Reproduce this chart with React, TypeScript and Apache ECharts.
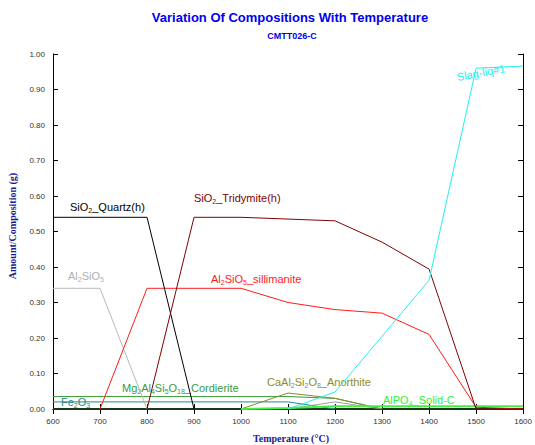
import React, { useEffect, useRef } from "react";
import * as echarts from "echarts";

const temps = [600, 700, 800, 900, 1000, 1100, 1200, 1300, 1400, 1500, 1600];
const quartz = [0.54, 0.54, 0.54, 0, null, null, null, null, null, null, null];
const tridymite = [null, null, 0, 0.54, 0.54, 0.535, 0.53, 0.47, 0.394, 0, 0];
const sillimanite = [null, 0, 0.34, 0.34, 0.34, 0.3, 0.28, 0.27, 0.21, 0.005, 0];
const al2sio5 = [0.34, 0.34, 0, null, null, null, null, null, null, null, null];
const slag = [null, null, null, null, null, 0, 0.048, 0.205, 0.363, 0.96, 0.966];
const cordierite = [0.035, 0.035, 0.035, 0.035, 0.035, 0.035, 0.03, 0, null, null, null];
const fe2o3 = [0.02, 0.02, 0.02, 0.02, 0.02, 0.02, 0, null, null, null, null];
const anorthite = [null, null, null, null, 0, 0.045, 0.03, 0, null, null, null];
const otherPhase = [null, null, null, null, null, 0, 0.02, 0, null, null, null];
const alpo4 = [null, null, null, null, 0, 0.003, 0.008, 0.008, 0.008, 0.008, 0.008];
const baseline = [0, 0, 0, 0, 0, 0, 0, 0, 0, 0, 0];

const toPairs = (vals: (number | null)[]) =>
  temps.map((t, i) => [t, vals[i]]).filter((p) => p[1] !== null);

const SANS = "'Liberation Sans', Arial, sans-serif";
const SERIF = "'Liberation Serif', 'Times New Roman', serif";

function label(
  x: number,
  y: number,
  parts: [string, boolean][],
  color: string,
  rotation = 0
) {
  const text = parts
    .map(([t, sub]) => `{${sub ? "s" : "n"}|${t}}`)
    .join("");
  return {
    type: "text",
    x,
    y,
    rotation,
    silent: true,
    style: {
      text,
      fill: color,
      fontFamily: SANS,
      fontSize: 11,
      verticalAlign: "middle",
      rich: {
        n: { fill: color, fontSize: 11, fontFamily: SANS, lineHeight: 14 },
        s: {
          fill: color,
          fontSize: 7,
          fontFamily: SANS,
          lineHeight: 14,
          verticalAlign: "bottom",
        },
      },
    },
  };
}

export default function App() {
  const ref = useRef<HTMLDivElement>(null);
  useEffect(() => {
    document.body.style.margin = "0";
    if (!ref.current) return;
    const chart = echarts.init(ref.current, undefined, { renderer: "svg" });
    const line = (name: string, data: (number | null)[], color: string, width = 1) => ({
      name,
      type: "line",
      data: toPairs(data),
      symbol: "none",
      lineStyle: { color, width },
      itemStyle: { color },
      z: 3,
    });
    const axisCommon = {
      type: "value",
      axisLine: { show: true, lineStyle: { color: "#000", width: 1 } },
      axisTick: { show: true, inside: true, length: 5, lineStyle: { color: "#000" } },
      splitLine: { show: false },
    };
    chart.setOption({
      animation: false,
      backgroundColor: "#fff",
      grid: { left: 53, right: 7, top: 54, bottom: 36 },
      xAxis: [
        {
          ...axisCommon,
          min: 600,
          max: 1600,
          interval: 100,
          axisLabel: {
            color: "#333",
            fontSize: 8,
            fontFamily: SANS,
            margin: 8,
            formatter: (v: number) => String(v),
          },
        },
        {
          ...axisCommon,
          position: "top",
          min: 600,
          max: 1600,
          interval: 100,
          axisLabel: { show: false },
        },
      ],
      yAxis: [
        {
          ...axisCommon,
          min: 0,
          max: 1,
          interval: 0.1,
          axisLabel: {
            color: "#333",
            fontSize: 8,
            fontFamily: SANS,
            margin: 8,
            formatter: (v: number) => v.toFixed(2),
          },
        },
        {
          ...axisCommon,
          position: "right",
          min: 0,
          max: 1,
          interval: 0.1,
          axisLabel: { show: false },
        },
      ],
      series: [
        line("base", baseline, "#1a3a1a", 2),
        line("Fe2O3", fe2o3, "#1a8c8c"),
        line("Cordierite", cordierite, "#3a9a3a"),
        line("Other", otherPhase, "#9a9aa8"),
        line("Anorthite", anorthite, "#8c8c28"),
        line("AlPO4", alpo4, "#44ee44", 2),
        line("Al2SiO5", al2sio5, "#b8b8b8"),
        line("Sillimanite", sillimanite, "#ff1a1a"),
        line("Quartz", quartz, "#000000"),
        line("Tridymite", tridymite, "#800000"),
        line("Slag", slag, "#22f0f0"),
      ],
      graphic: [
        {
          type: "text",
          x: 290,
          y: 17,
          silent: true,
          style: {
            text: "Variation Of Compositions With Temperature",
            fill: "#0000ee",
            fontFamily: SANS,
            fontWeight: "bold",
            fontSize: 13,
            align: "center",
            verticalAlign: "middle",
          },
        },
        {
          type: "text",
          x: 292,
          y: 36,
          silent: true,
          style: {
            text: "CMTT026-C",
            fill: "#0000ee",
            fontFamily: SANS,
            fontWeight: "bold",
            fontSize: 9,
            align: "center",
            verticalAlign: "middle",
          },
        },
        {
          type: "text",
          x: 12,
          y: 226,
          rotation: Math.PI / 2,
          silent: true,
          style: {
            text: "Amount/Composition (g)",
            fill: "#1a1a8c",
            fontFamily: SERIF,
            fontWeight: "bold",
            fontSize: 10,
            align: "center",
            verticalAlign: "middle",
          },
        },
        {
          type: "text",
          x: 291,
          y: 438,
          silent: true,
          style: {
            text: "Temperature (°C)",
            fill: "#1a1a8c",
            fontFamily: SERIF,
            fontWeight: "bold",
            fontSize: 10,
            align: "center",
            verticalAlign: "middle",
          },
        },
        label(70, 207, [["SiO", false], ["2", true], ["_Quartz(h)", false]], "#000000"),
        label(194, 198, [["SiO", false], ["2", true], ["_Tridymite(h)", false]], "#800000"),
        label(68, 276, [["Al", false], ["2", true], ["SiO", false], ["5", true]], "#b0b0b0"),
        label(211, 279, [["Al", false], ["2", true], ["SiO", false], ["5", true], ["_sillimanite", false]], "#ff1a1a"),
        label(
          122,
          388,
          [["Mg", false], ["2", true], ["Al", false], ["4", true], ["Si", false], ["5", true], ["O", false], ["18", true], ["_Cordierite", false]],
          "#3a9a3a"
        ),
        label(61, 402, [["Fe", false], ["2", true], ["O", false], ["3", true]], "#1a8c8c"),
        label(
          267,
          382,
          [["CaAl", false], ["2", true], ["Si", false], ["2", true], ["O", false], ["8", true], ["_Anorthite", false]],
          "#8c8c28"
        ),
        label(383, 400, [["AlPO", false], ["4", true], ["_Solid-C", false]], "#33f033"),
        label(457, 77, [["Slag-liq#1", false]], "#22f0f0", 0.18),
      ],
    });
    return () => chart.dispose();
  }, []);
  return <div ref={ref} style={{ width: 535, height: 445 }} />;
}
